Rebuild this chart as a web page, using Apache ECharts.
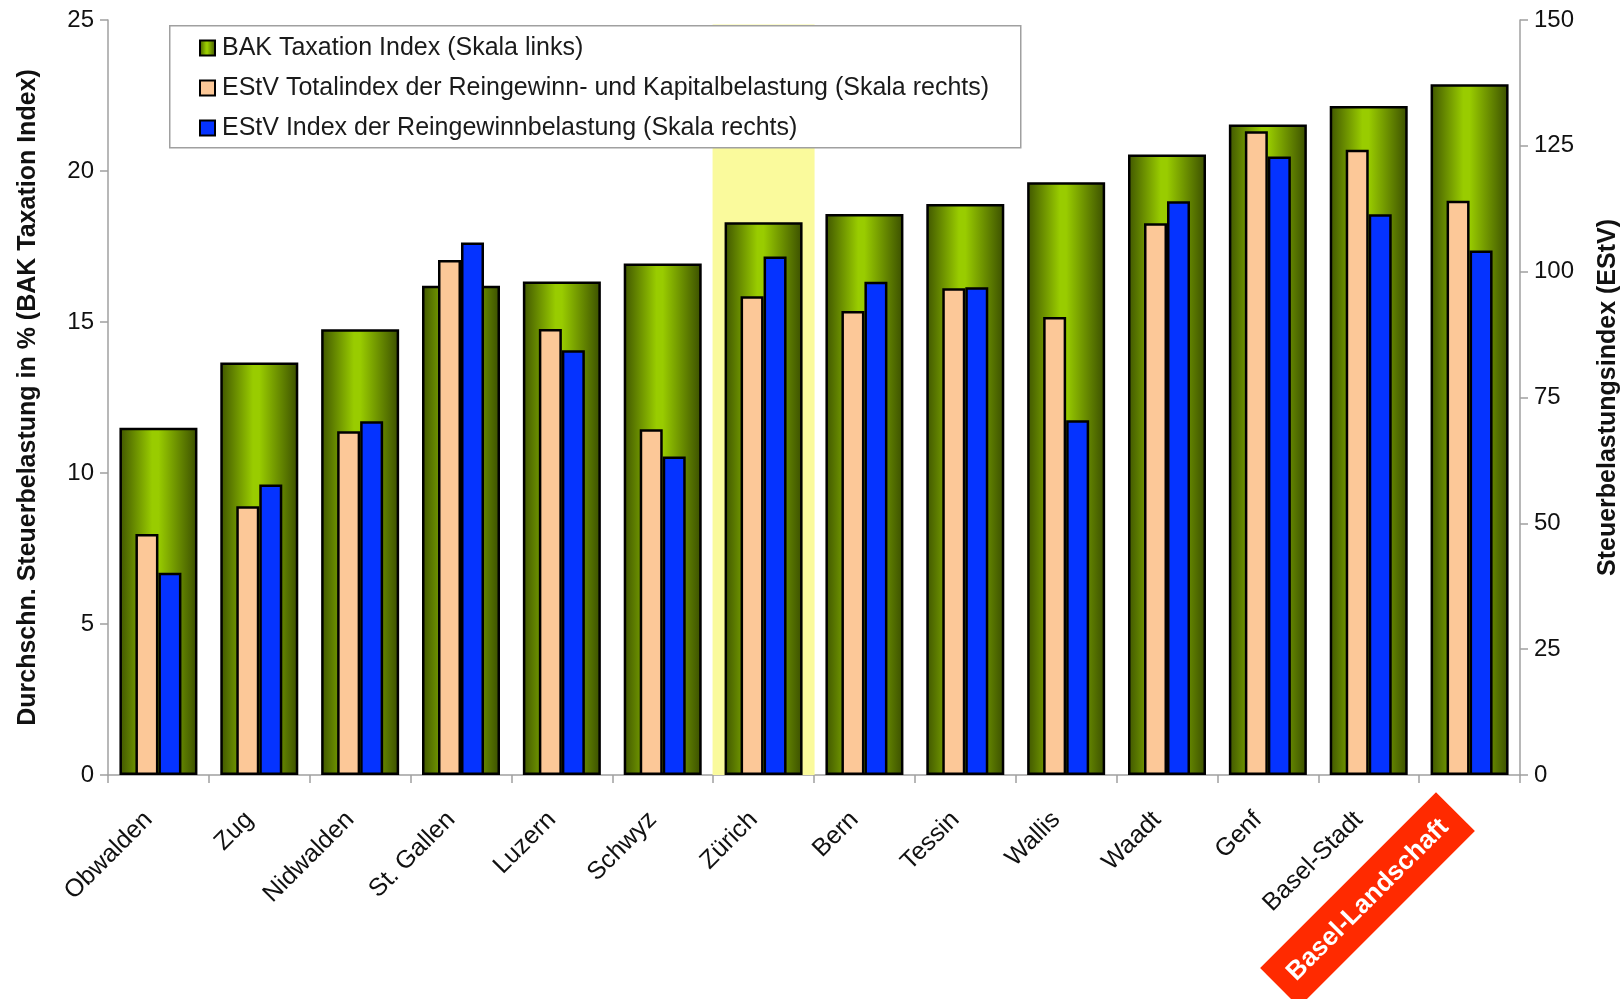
<!DOCTYPE html>
<html>
<head>
<meta charset="utf-8">
<script src="https://cdn.jsdelivr.net/npm/echarts@6/dist/echarts.min.js"></script>
<style>
html,body{margin:0;padding:0;background:#fff;}
#chart{width:1622px;height:999px;}
</style>
</head>
<body>
<div id="chart"></div>
<script>
const categories = ['Obwalden','Zug','Nidwalden','St. Gallen','Luzern','Schwyz','Zürich','Bern','Tessin','Wallis','Waadt','Genf','Basel-Stadt','Basel-Landschaft'];
const bakIndex = [11.5, 13.66, 14.76, 16.2, 16.34, 16.94, 18.3, 18.58, 18.91, 19.63, 20.55, 21.54, 22.15, 22.87];
const estvTotal = [47.9, 53.4, 68.3, 102.3, 88.6, 68.7, 95.1, 92.2, 96.7, 91.0, 109.6, 127.9, 124.2, 114.1];
const estvReingewinn = [40.2, 57.7, 70.3, 105.8, 84.4, 63.3, 103.0, 98.0, 96.9, 70.5, 114.0, 122.9, 111.4, 104.2];
const highlightBand = [null, null, null, null, null, null, 24.85, null, null, null, null, null, null, null];
const leftTicks = {min: 0, max: 25, interval: 5};
const rightTicks = {min: 0, max: 150, interval: 25};
const seriesNames = ['BAK Taxation Index (Skala links)', 'EStV Totalindex der Reingewinn- und Kapitalbelastung (Skala rechts)', 'EStV Index der Reingewinnbelastung (Skala rechts)'];
const leftTitle = 'Durchschn. Steuerbelastung in % (BAK Taxation Index)';
const rightTitle = 'Steuerbelastungsindex (EStV)';
const highlightLabel = 'Basel-Landschaft';

const FONT = '"Liberation Sans", Arial, sans-serif';
const chart = echarts.init(document.getElementById('chart'), null, {renderer: 'canvas'});
const greenGrad = new echarts.graphic.LinearGradient(0, 0, 1, 0, [
  {offset: 0, color: '#3f5500'},
  {offset: 0.42, color: '#99cc00'},
  {offset: 0.5, color: '#99cc00'},
  {offset: 1, color: '#3a4e00'}
]);
const axisLineStyle = {color: '#a0a0a0', width: 1.5};

chart.setOption({
  backgroundColor: '#ffffff',
  animation: false,
  textStyle: {fontFamily: FONT},
  grid: {left: 108, right: 102, top: 20, bottom: 224, containLabel: false, outerBoundsMode: 'none'},
  graphic: [{
    type: 'rect', left: 169, top: 25, z: 5,
    shape: {width: 851, height: 122},
    style: {fill: '#ffffff', stroke: '#a0a0a0', lineWidth: 1.5}
  }],
  legend: {
    orient: 'vertical', left: 194, top: 29, z: 10,
    data: seriesNames,
    icon: 'rect', itemWidth: 15, itemHeight: 15, itemGap: 12,
    itemStyle: {borderWidth: 2, borderColor: '#000'},
    textStyle: {fontSize: 25, color: '#1a1a1a', fontFamily: FONT, lineHeight: 28, padding: [0, 0, 0, 2]},
    selectedMode: false
  },
  xAxis: [{
    type: 'category', data: categories, position: 'bottom',
    axisLine: {lineStyle: axisLineStyle},
    axisTick: {show: true, length: 8, lineStyle: {color: '#a0a0a0', width: 1.5}},
    axisLabel: {
      interval: 0, rotate: 45, margin: 31, fontSize: 25, color: '#111', fontFamily: FONT,
      padding: [0, 14, 0, 0],
      formatter: function (v) { return v === highlightLabel ? '{hl|' + v + '}\n{sp| }' : v; },
      rich: {
        hl: {backgroundColor: '#ff2a00', color: '#ffffff', fontWeight: 'bold', fontSize: 26, fontFamily: FONT, padding: [15, 16, 14, 16]},
        sp: {height: 12, lineHeight: 12, fontSize: 2}
      }
    }
  }, {
    type: 'category', data: categories, show: false
  }, {
    type: 'category', data: categories, show: false
  }],
  yAxis: [{
    type: 'value', position: 'left', min: leftTicks.min, max: leftTicks.max, interval: leftTicks.interval,
    name: leftTitle, nameLocation: 'middle', nameRotate: 90, nameGap: 67,
    nameTextStyle: {fontSize: 25, fontWeight: 'bold', color: '#111', fontFamily: FONT},
    axisLine: {show: true, lineStyle: axisLineStyle},
    axisTick: {show: true, length: 8, lineStyle: {color: '#a0a0a0', width: 1.5}},
    axisLabel: {fontSize: 24, color: '#111', margin: 14, fontFamily: FONT},
    splitLine: {show: false}
  }, {
    type: 'value', position: 'right', min: rightTicks.min, max: rightTicks.max, interval: rightTicks.interval,
    name: rightTitle, nameLocation: 'middle', nameRotate: 90, nameGap: 76,
    nameTextStyle: {fontSize: 25, fontWeight: 'bold', color: '#111', fontFamily: FONT},
    axisLine: {show: true, lineStyle: axisLineStyle},
    axisTick: {show: true, length: 8, lineStyle: {color: '#a0a0a0', width: 1.5}},
    axisLabel: {fontSize: 24, color: '#111', margin: 14, fontFamily: FONT},
    splitLine: {show: false}
  }],
  series: [{
    name: 'highlight', type: 'bar', xAxisIndex: 2, yAxisIndex: 0, data: highlightBand,
    barWidth: 102, z: 1, silent: true,
    itemStyle: {color: '#fafa9c'}
  }, {
    name: seriesNames[0], type: 'bar', xAxisIndex: 1, yAxisIndex: 0, data: bakIndex,
    barWidth: 78, z: 2,
    itemStyle: {color: greenGrad, borderColor: '#000', borderWidth: 2.5}
  }, {
    name: seriesNames[1], type: 'bar', xAxisIndex: 0, yAxisIndex: 1, data: estvTotal,
    barWidth: 23, barGap: 0, z: 3,
    itemStyle: {color: '#fcc898', borderColor: '#000', borderWidth: 2.5}
  }, {
    name: seriesNames[2], type: 'bar', xAxisIndex: 0, yAxisIndex: 1, data: estvReingewinn,
    barWidth: 23, barGap: 0, z: 3,
    itemStyle: {color: '#0533ff', borderColor: '#000', borderWidth: 2.5}
  }]
});
</script>
</body>
</html>
